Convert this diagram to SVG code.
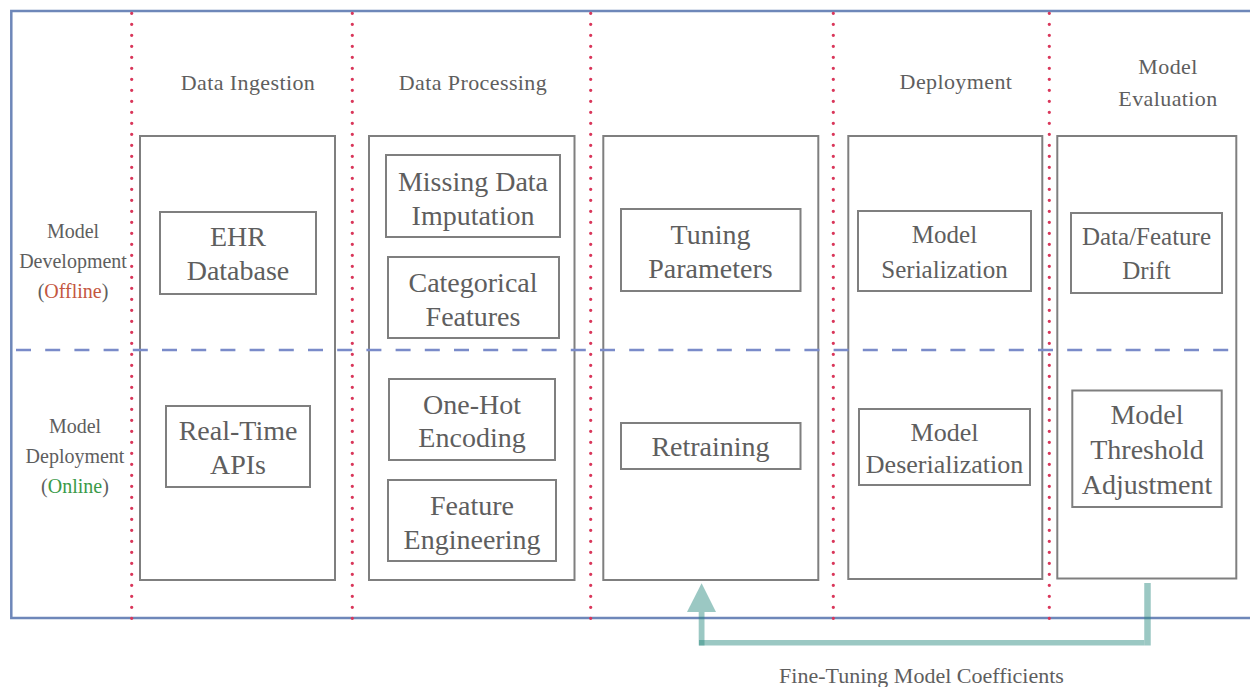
<svg xmlns="http://www.w3.org/2000/svg" width="1250" height="687" viewBox="0 0 1250 687">
<style>
text { font-family: "Liberation Serif", "Times New Roman", serif; fill: #5e5e5e; text-anchor: middle; }
.hdr { font-size: 22px; letter-spacing: 0.4px; }
.side { font-size: 20px; }
.bx { font-size: 28px; }
.bxs { font-size: 25px; }
.col { fill: #ffffff; stroke: #7f7f7f; stroke-width: 2; }
.box { fill: #ffffff; stroke: #7f7f7f; stroke-width: 2; }
.dot { stroke: #d9365a; stroke-width: 3.3; stroke-linecap: round; stroke-dasharray: 0 11; fill: none; }
.dash { stroke: #7a8bc9; stroke-width: 2.5; stroke-dasharray: 15 14.2; fill: none; }
.teal { stroke: #2a8a80; stroke-opacity: 0.47; fill: none; }
.off { fill: #c4573f; }
.on { fill: #3a9a48; }
</style>

<g id="frame">
  <rect x="11.3" y="11" width="1260" height="607" fill="#ffffff" stroke="#6e87b9" stroke-width="2.5"/>
</g>

<g id="columns">
  <rect id="col-ingestion" class="col" x="140" y="136" width="195" height="444"/>
  <rect id="col-processing" class="col" x="369" y="136" width="205.5" height="444"/>
  <rect id="col-training" class="col" x="603.3" y="136" width="215" height="444"/>
  <rect id="col-deployment" class="col" x="848.3" y="136" width="194" height="443"/>
  <rect id="col-evaluation" class="col" x="1057.3" y="136" width="179" height="442.5"/>
</g>

<g id="separators">
  <line class="dot" x1="131.7" y1="13.3" x2="131.7" y2="619"/>
  <line class="dot" x1="352.3" y1="13.3" x2="352.3" y2="619"/>
  <line class="dot" x1="590.7" y1="13.3" x2="590.7" y2="619"/>
  <line class="dot" x1="833.3" y1="13.3" x2="833.3" y2="619"/>
  <line class="dot" x1="1049.3" y1="13.3" x2="1049.3" y2="619"/>
  <line class="dash" x1="16" y1="350" x2="1230" y2="350"/>
</g>

<g id="headers">
  <text class="hdr" x="248" y="90">Data Ingestion</text>
  <text class="hdr" x="473" y="90">Data Processing</text>
  <text class="hdr" x="956" y="89">Deployment</text>
  <text class="hdr" x="1168" y="74">Model</text>
  <text class="hdr" x="1168" y="106">Evaluation</text>
</g>

<g id="row-labels">
  <text class="side" x="73" y="238">Model</text>
  <text class="side" x="73" y="268">Development</text>
  <text class="side" x="73" y="298">(<tspan class="off">Offline</tspan>)</text>
  <text class="side" x="75" y="433">Model</text>
  <text class="side" x="75" y="463">Deployment</text>
  <text class="side" x="75" y="493">(<tspan class="on">Online</tspan>)</text>
</g>

<g id="ehr-database">
  <rect class="box" x="160" y="212" width="156" height="82"/>
  <text class="bx" x="238" y="246">EHR</text>
  <text class="bx" x="238" y="280">Database</text>
</g>
<g id="real-time-apis">
  <rect class="box" x="166" y="406" width="144" height="81"/>
  <text class="bx" x="238" y="439.5">Real-Time</text>
  <text class="bx" x="238" y="473.5">APIs</text>
</g>

<g id="missing-data-imputation">
  <rect class="box" x="386" y="155" width="174" height="82"/>
  <text class="bx" x="473" y="190.5">Missing Data</text>
  <text class="bx" x="473" y="224.5">Imputation</text>
</g>
<g id="categorical-features">
  <rect class="box" x="388" y="257" width="171" height="81"/>
  <text class="bx" x="473" y="291.5">Categorical</text>
  <text class="bx" x="473" y="325.5">Features</text>
</g>
<g id="one-hot-encoding">
  <rect class="box" x="389" y="379" width="166" height="81"/>
  <text class="bx" x="472" y="413.5">One-Hot</text>
  <text class="bx" x="472" y="446.5">Encoding</text>
</g>
<g id="feature-engineering">
  <rect class="box" x="388" y="480" width="168" height="81"/>
  <text class="bx" x="472" y="514.5">Feature</text>
  <text class="bx" x="472" y="548.5">Engineering</text>
</g>

<g id="tuning-parameters">
  <rect class="box" x="621" y="209" width="179.5" height="82"/>
  <text class="bx" x="710.5" y="244">Tuning</text>
  <text class="bx" x="710.5" y="278">Parameters</text>
</g>
<g id="retraining">
  <rect class="box" x="621" y="423" width="179.5" height="46"/>
  <text class="bx" x="710.5" y="456">Retraining</text>
</g>

<g id="model-serialization">
  <rect class="box" x="858" y="211" width="173" height="80"/>
  <text class="bxs" x="944.5" y="242.5">Model</text>
  <text class="bxs" x="944.5" y="277.5">Serialization</text>
</g>
<g id="model-deserialization">
  <rect class="box" x="859" y="409" width="171" height="76"/>
  <text class="bxs" x="944.5" y="440.5" style="font-size:26px">Model</text>
  <text class="bxs" x="944.5" y="472.5" style="font-size:26px">Deserialization</text>
</g>

<g id="data-feature-drift">
  <rect class="box" x="1071" y="213" width="151" height="80"/>
  <text class="bxs" x="1146.5" y="244.5">Data/Feature</text>
  <text class="bxs" x="1146.5" y="278.5">Drift</text>
</g>
<g id="model-threshold-adjustment">
  <rect class="box" x="1072.3" y="390.5" width="149.4" height="116.5"/>
  <text class="bx" x="1147" y="424">Model</text>
  <text class="bx" x="1147" y="458.5">Threshold</text>
  <text class="bx" x="1147" y="493.5">Adjustment</text>
</g>

<g id="connectors">
  <line class="teal" x1="1147.5" y1="583" x2="1147.5" y2="645.5" stroke-width="6.5"/>
  <line class="teal" x1="699" y1="642.8" x2="1144.2" y2="642.8" stroke-width="5.5"/>
  <line class="teal" x1="701.6" y1="645.5" x2="701.6" y2="612" stroke-width="5.8"/>
  <polygon points="701.6,583.3 687,612 716,612" fill="#2a8a80" fill-opacity="0.47"/>
  <text class="hdr" x="921.5" y="683" style="letter-spacing:0">Fine-Tuning Model Coefficients</text>
</g>
</svg>
